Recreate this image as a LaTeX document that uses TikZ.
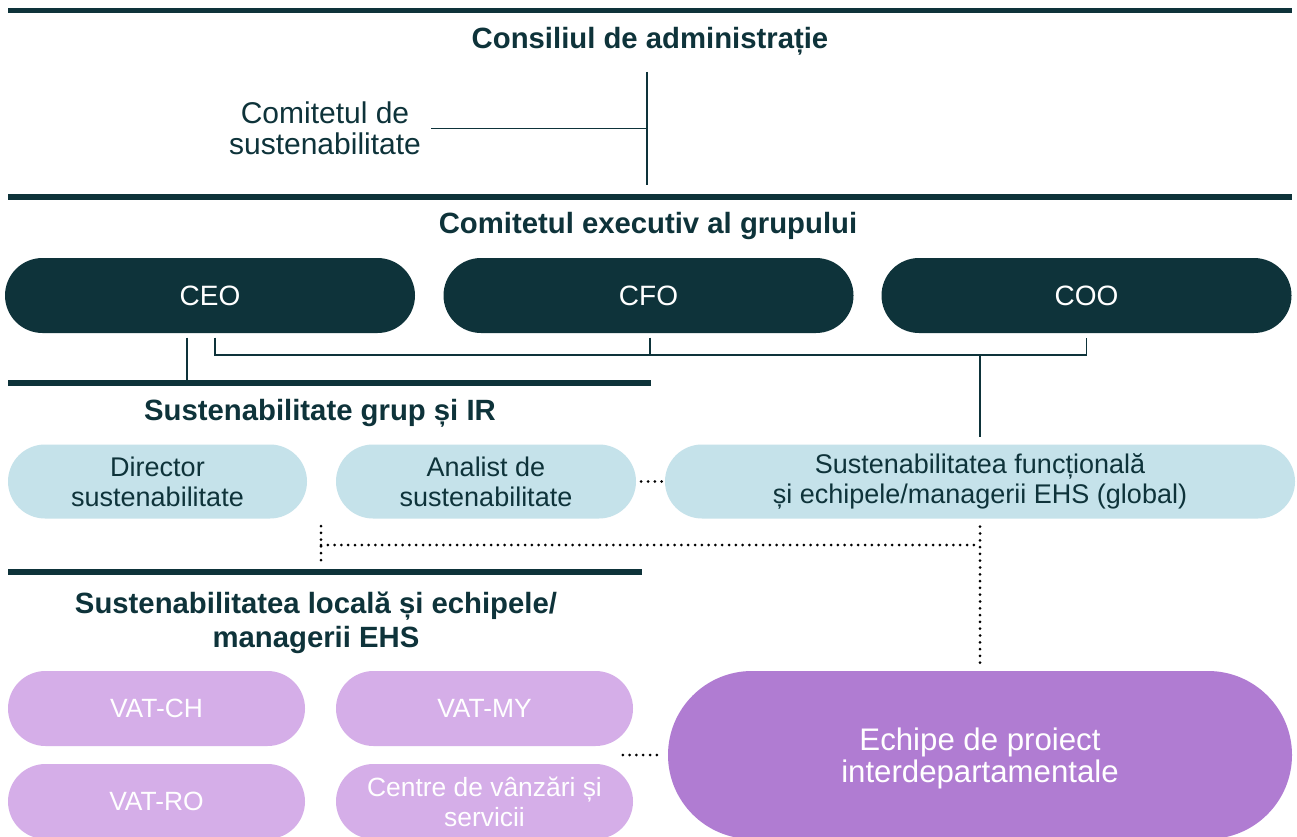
\documentclass[tikz,border=0pt]{standalone}
\usepackage{fontspec}
\setmainfont{Liberation Sans}
\definecolor{dk}{RGB}{14,51,58}
\definecolor{lblue}{RGB}{197,226,234}
\definecolor{lpurp}{RGB}{213,174,232}
\definecolor{bpurp}{RGB}{176,124,210}
\begin{document}
\begin{tikzpicture}[x=1pt,y=-1pt,
  rule/.style={line width=5.5pt, draw=dk},
  conn/.style={line width=1.8pt, draw=dk},
  dots/.style={line width=3pt, line cap=round, dash pattern=on 0pt off 6.8pt, draw=black},
  ttl/.style={text=dk, font=\bfseries\fontsize{29.3}{34}\selectfont, align=center, inner sep=0pt},
  plain/.style={text=dk, font=\fontsize{30}{31.5}\selectfont, align=center, inner sep=0pt},
  darkpill/.style={rectangle, rounded corners=37.5pt, fill=dk, text=white, minimum width=410pt, minimum height=75pt, inner sep=0pt, text depth=0pt, font=\fontsize{28}{31}\selectfont},
  bluepill/.style={rectangle, rounded corners=37pt, fill=lblue, text=dk, minimum height=74pt, inner sep=0pt, align=center, font=\fontsize{27}{30}\selectfont},
  purppill/.style={rectangle, rounded corners=37.5pt, fill=lpurp, text=white, minimum width=297pt, minimum height=75pt, inner sep=0pt, align=center, font=\fontsize{26.4}{30}\selectfont},
  bigpill/.style={rectangle, rounded corners=84pt, fill=bpurp, text=white, minimum width=624pt, minimum height=168pt, inner sep=0pt, text depth=0pt, align=center, font=\fontsize{31.2}{32}\selectfont}
]
\clip (0,0) rectangle (1297,837);
\fill[white] (0,0) rectangle (1297,837);

% rules
\coordinate (r1a) at (8,10.5); \coordinate (r1b) at (1292,10.5);
\coordinate (r2a) at (8,197); \coordinate (r2b) at (1292,197);
\coordinate (r3a) at (8,383); \coordinate (r3b) at (651,383);
\coordinate (r4a) at (8,572); \coordinate (r4b) at (642,572);
\draw[rule] (r1a) -- (r1b);
\draw[rule] (r2a) -- (r2b);
\draw[rule] (r3a) -- (r3b);
\draw[rule] (r4a) -- (r4b);

% board
\node[ttl] (board) at (650,41.5) {Consiliul de administrație};
\coordinate (v1) at (647,72); \coordinate (v2) at (647,185);
\draw[conn] (v1) -- (v2);
\node[plain] (comsust) at (325,128.5) {Comitetul de\\sustenabilitate};
\draw[conn] ([xshift=10pt]comsust.east) -- (comsust.east -| v1);

% executive
\node[ttl] (exec) at (648,225.5) {Comitetul executiv al grupului};
\node[darkpill] (ceo) at (210,295.5) {CEO};
\node[darkpill] (cfo) at (648.5,295.5) {CFO};
\node[darkpill] (coo) at (1086.5,295.5) {COO};

\coordinate (bk) at (980,355);
\draw[conn] ([xshift=-23pt,yshift=-4.5pt]ceo.south) -- ([xshift=-23pt]ceo.south |- r3a);
\draw[conn] ([xshift=5pt,yshift=-4.5pt]ceo.south) |- (bk) -| ([yshift=-4.5pt]coo.south);
\draw[conn] ([xshift=1.5pt,yshift=-4.5pt]cfo.south) -- ([xshift=1.5pt]cfo.south |- bk);

% group sustainability
\node[ttl] (grp) at (320,413.5) {Sustenabilitate grup și IR};
\node[bluepill, minimum width=299pt] (dir) at (157.5,481.5) {Director\\sustenabilitate};
\node[bluepill, minimum width=300pt] (anal) at (486,481.5) {Analist de\\sustenabilitate};
\node[bluepill, minimum width=630pt] (func) at (980,481.5) {Sustenabilitatea funcțională\\și echipele/managerii EHS (global)};
\draw[conn] (bk) -- ([yshift=7pt]func.north);
\draw[dots] ([xshift=5pt]anal.east) -- ([xshift=-3pt]func.west);

% local
\node[ttl] (loc) at (316,622.5) {Sustenabilitatea locală și echipele/\\managerii EHS};
\node[purppill] (vch) at (156.5,708.5) {VAT-CH};
\node[purppill] (vmy) at (484.5,708.5) {VAT-MY};
\node[purppill] (vro) at (156.5,801.5) {VAT-RO};
\node[purppill] (csv) at (484.5,801.5) {Centre de vânzări și\\servicii};
\node[bigpill] (proj) at (980,755) {Echipe de proiect\\interdepartamentale};

% dotted links
\coordinate (dA) at (321,526); \coordinate (dB) at (321,563); \coordinate (dM) at (321,545);
\draw[dots] (dA) -- (dB);
\draw[dots] (dM) -- (dM -| func.south);
\draw[dots] ([yshift=-8pt]func.south) -- ([yshift=7pt]proj.north);
\draw[dots] ([xshift=-45pt]proj.west) -- ([xshift=-8pt]proj.west);
\end{tikzpicture}
\end{document}
